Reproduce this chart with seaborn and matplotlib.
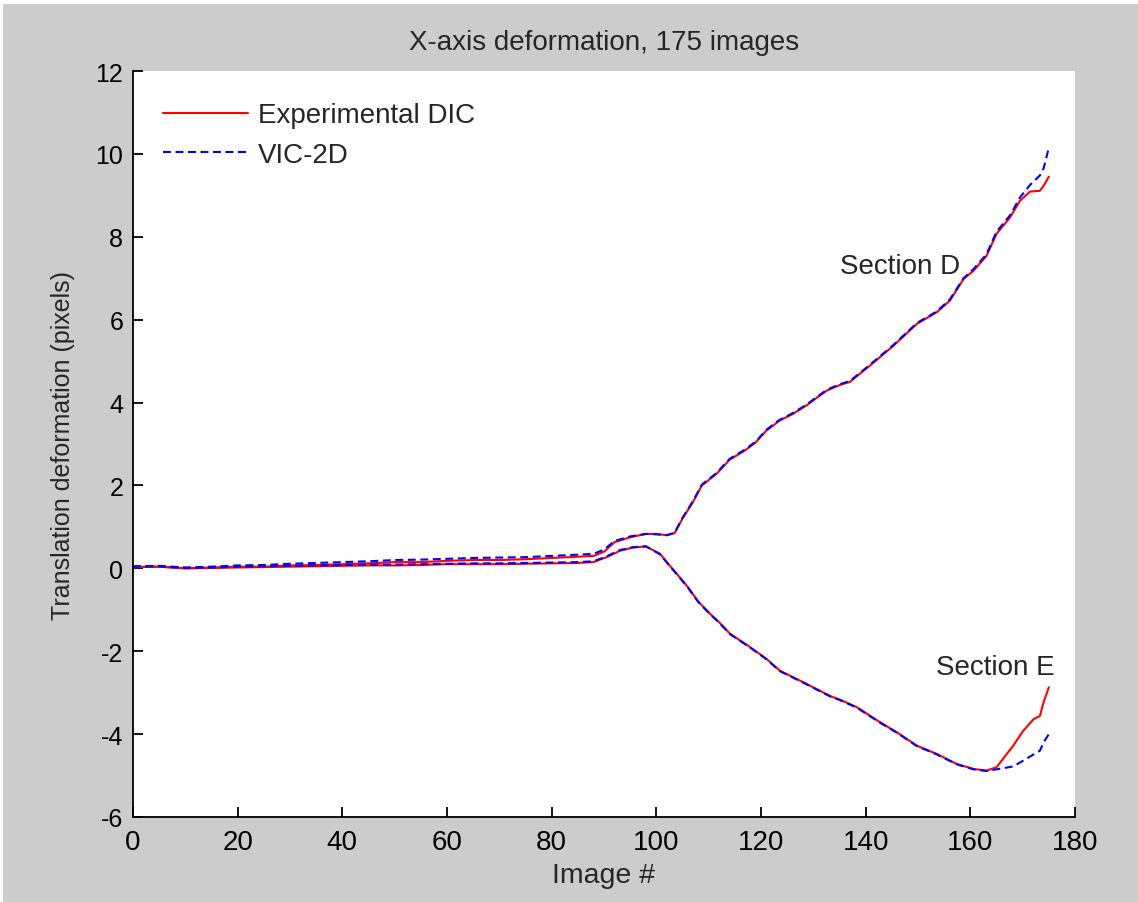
import matplotlib
matplotlib.use("Agg")
import matplotlib.pyplot as plt
from matplotlib.patches import Rectangle
import numpy as np
import pandas as pd
import seaborn as sns

# ---- data -------------------------------------------------------------
# Section D (upper branch)
d_x = [0, 5, 10, 15, 20, 25, 30, 35, 40, 45, 50, 55, 60, 65, 70, 75, 80, 85,
       88, 90, 92, 95, 98, 100, 102, 103.5, 105, 107, 108.7, 111.5, 114, 117,
       119, 121, 123.5, 126, 128.7, 130.5, 132.6, 135, 137, 140.8, 145.3,
       149.8, 153.6, 156.1, 158.7, 160.6, 163.1, 165, 167.6, 169.5, 171.4,
       173.3, 174, 175]
d_dic = [0.03, 0.04, 0.0, 0.02, 0.04, 0.04, 0.07, 0.08, 0.1, 0.12, 0.15, 0.15,
         0.18, 0.2, 0.2, 0.22, 0.25, 0.28, 0.3, 0.4, 0.63, 0.75, 0.83, 0.83,
         0.8, 0.85, 1.2, 1.6, 2.0, 2.28, 2.62, 2.85, 3.04, 3.32, 3.56, 3.72,
         3.93, 4.1, 4.29, 4.42, 4.5, 4.89, 5.37, 5.9, 6.18, 6.46, 6.98, 7.18,
         7.54, 8.07, 8.47, 8.87, 9.09, 9.11, 9.23, 9.45]
d_vic = [0.05, 0.06, 0.02, 0.04, 0.07, 0.08, 0.11, 0.13, 0.15, 0.17, 0.2, 0.21,
         0.23, 0.25, 0.26, 0.27, 0.3, 0.33, 0.35, 0.45, 0.66, 0.77, 0.83, 0.82,
         0.8, 0.86, 1.22, 1.62, 2.02, 2.3, 2.64, 2.87, 3.06, 3.34, 3.58, 3.74,
         3.95, 4.12, 4.31, 4.44, 4.52, 4.91, 5.39, 5.92, 6.2, 6.49, 7.0, 7.22,
         7.58, 8.12, 8.52, 8.95, 9.25, 9.48, 9.65, 10.15]

# Section E (lower branch)
e_x = [0, 5, 10, 15, 20, 25, 30, 35, 40, 45, 50, 55, 60, 65, 70, 75, 80, 85,
       88, 90.5, 93, 95.5, 98, 100.7, 102.6, 104.5, 106, 108, 110.3, 112,
       114.1, 117.9, 121.1, 123.6, 128.1, 133.2, 135.1, 138.3, 142.7, 146,
       149.8, 153.6, 157.4, 160.6, 163.1, 165, 168.2, 170.1, 172.1, 173.3,
       174, 175]
e_dic = [0.03, 0.04, 0.0, 0.01, 0.02, 0.03, 0.04, 0.05, 0.06, 0.07, 0.07, 0.08,
         0.1, 0.1, 0.1, 0.11, 0.12, 0.13, 0.15, 0.27, 0.42, 0.5, 0.53, 0.35,
         0.06, -0.22, -0.45, -0.8, -1.1, -1.3, -1.58, -1.9, -2.19, -2.47,
         -2.75, -3.08, -3.17, -3.35, -3.71, -3.96, -4.28, -4.48, -4.72, -4.84,
         -4.88, -4.8, -4.28, -3.92, -3.64, -3.56, -3.23, -2.87]
e_vic = [0.04, 0.05, 0.01, 0.02, 0.04, 0.05, 0.06, 0.07, 0.08, 0.09, 0.09, 0.1,
         0.11, 0.12, 0.12, 0.13, 0.14, 0.15, 0.17, 0.29, 0.44, 0.51, 0.53,
         0.34, 0.05, -0.23, -0.46, -0.81, -1.11, -1.31, -1.59, -1.91, -2.2,
         -2.48, -2.76, -3.09, -3.18, -3.36, -3.72, -3.97, -4.29, -4.49, -4.73,
         -4.85, -4.89, -4.85, -4.78, -4.64, -4.49, -4.4, -4.2, -4.0]

legend_labels = ["Experimental DIC", "VIC-2D"]
x_ticks = list(range(0, 181, 20))
y_ticks = list(range(-6, 13, 2))

# ---- style ------------------------------------------------------------
sns.set_style("ticks")
plt.rcParams["font.family"] = ["Liberation Sans", "DejaVu Sans"]
RED = "#ff0000"
BLUE = "#0000ff"

fig = plt.figure(figsize=(11.38, 9.03), dpi=100, facecolor="white")
fig.patches.append(Rectangle((3 / 1138, 0), 1, 1 - 5 / 903,
                             transform=fig.transFigure, facecolor="#cccccc",
                             edgecolor="none", zorder=-10))
ax = fig.add_axes([133 / 1138, 85 / 903, 942 / 1138, 746 / 903])
ax.set_facecolor("white")

df = pd.concat([
    pd.DataFrame({"image": d_x, "dic": d_dic, "vic": d_vic, "section": "D"}),
    pd.DataFrame({"image": e_x, "dic": e_dic, "vic": e_vic, "section": "E"}),
])

for sec, grp in df.groupby("section"):
    sns.lineplot(data=grp, x="image", y="dic", ax=ax, color=RED, lw=1.5,
                 estimator=None, sort=False, legend=False)
for sec, grp in df.groupby("section"):
    sns.lineplot(data=grp, x="image", y="vic", ax=ax, color=BLUE, lw=1.5,
                 linestyle=(0, (3.8, 2.2)), estimator=None, sort=False,
                 legend=False)

ax.set_xlim(0, 180)
ax.set_ylim(-6, 12)
ax.set_xticks(x_ticks)
ax.set_yticks(y_ticks)
ax.set_xticklabels([str(t) for t in x_ticks], fontsize=20)
ax.set_yticklabels([str(t) for t in y_ticks], fontsize=18)

for side in ("top", "right"):
    ax.spines[side].set_visible(False)
for side in ("left", "bottom"):
    ax.spines[side].set_linewidth(1.3)
    ax.spines[side].set_color("black")
ax.tick_params(axis="both", direction="in", length=7, width=1.3,
               colors="black")
ax.tick_params(axis="x", pad=9)
ax.tick_params(axis="y", pad=7)

ax.set_xlabel("Image #", fontsize=20.5, labelpad=5)
ax.set_ylabel("Translation deformation (pixels)", fontsize=18, labelpad=15)
ax.set_title("X-axis deformation, 175 images", fontsize=20, pad=16)

ax.text(135.1, 7.3, "Section D", fontsize=20, ha="left", va="center")
ax.text(153.4, -2.38, "Section E", fontsize=20, ha="left", va="center")

red_line, blue_line = ax.lines[0], ax.lines[2]
ax.legend([red_line, blue_line], legend_labels, loc="upper left",
          bbox_to_anchor=(30 / 942, 0.958), borderaxespad=0, borderpad=0,
          frameon=False, fontsize=20, handlelength=3.05,
          handletextpad=0.36, labelspacing=0.48)

fig.savefig("out.png", dpi=100, facecolor=fig.get_facecolor())
